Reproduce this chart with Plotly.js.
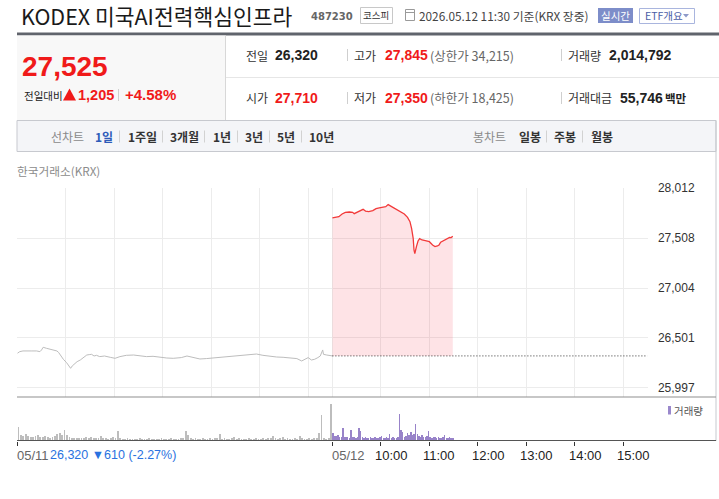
<!DOCTYPE html>
<html><head><meta charset="utf-8">
<script src="https://cdn.plot.ly/plotly-3.0.1.min.js"></script>
<style>html,body{margin:0;padding:0;background:#fff;}#chart{width:719px;height:499px;}</style>
</head><body><div id="chart"></div>
<script>
// ---------------- data ----------------
const stockName = "KODEX 미국AI전력핵심인프라";
const stockCode = "487230";
const market = "코스피";
const asOf = "2026.05.12 11:30 기준(KRX 장중)";
const currentPrice = "27,525";
const changeLabel = "전일대비";
const changeAbs = "1,205";
const changePct = "+4.58%";
const infoLabels = ["전일", "고가", "거래량", "시가", "저가", "거래대금"];
const infoValues = ["26,320", "27,845", "2,014,792", "27,710", "27,350", "55,746"];
const infoLimits = ["(상한가 34,215)", "(하한가 18,425)"];
const periodTabs = ["1일", "1주일", "3개월", "1년", "3년", "5년", "10년"];
const candleTabs = ["일봉", "주봉", "월봉"];

const prevClose = 26320;
const prevDayNote = "26,320 ▼610 (-2.27%)";

// 05/11 (previous day) price line
const day1Times = ["09:00","09:03","09:07","09:12","09:18","09:24","09:28","09:30","09:32","09:36","09:40","09:45","09:49","09:51","09:54","09:57","10:01","10:04","10:06","10:08","10:11","10:14","10:18","10:22","10:26","10:29","10:32","10:35","10:38","10:42","10:48","10:55","11:01","11:07","11:15","11:24","11:32","11:40","11:48","11:57","12:05","12:13","12:23","12:30","12:38","12:46","12:54","13:03","13:11","13:19","13:27","13:36","13:46","13:56","14:04","14:13","14:21","14:29","14:37","14:46","14:52","14:56","15:00","15:04","15:08","15:12","15:15","15:18","15:19","15:23","15:30"];
const day1Prices = [26346,26363,26370,26373,26370,26370,26363,26380,26407,26397,26387,26380,26370,26356,26319,26286,26252,26219,26195,26219,26246,26262,26279,26303,26329,26333,26336,26319,26326,26313,26319,26306,26296,26313,26326,26329,26319,26313,26316,26306,26299,26296,26303,26319,26303,26289,26293,26299,26309,26316,26319,26323,26333,26339,26326,26316,26309,26306,26303,26293,26269,26286,26303,26279,26286,26303,26319,26380,26336,26329,26320];

// 05/12 (today) price line
const day2Times = ["09:00","09:04","09:08","09:12","09:16","09:21","09:25","09:27","09:31","09:35","09:38","09:41","09:45","09:50","09:54","09:58","10:02","10:06","10:09","10:12","10:16","10:20","10:25","10:29","10:33","10:36","10:38","10:40","10:41","10:42","10:44","10:46","10:48","10:51","10:55","11:00","11:04","11:07","11:10","11:12","11:14","11:18","11:22","11:25","11:27","11:29"];
const day2Prices = [27710,27713,27723,27750,27767,27770,27767,27753,27770,27784,27797,27780,27774,27784,27804,27811,27817,27824,27845,27831,27814,27800,27774,27750,27716,27673,27606,27505,27387,27350,27421,27478,27501,27488,27481,27471,27438,27421,27428,27438,27465,27481,27495,27515,27512,27525];

// volume (thousand shares), 3-minute bins on 05/11, 2-minute bins on 05/12
const vol1Start = "09:00", vol1Step = 3;
const vol1 = [52,20,18,24,16,14,12,16,20,14,
 12,16,14,10,12,18,24,28,20,40,
 22,14,10,8,8,10,8,8,12,10,
 14,10,8,10,18,8,8,6,8,12,
 8,36,8,6,6,8,4,6,6,4,
 8,6,4,6,8,6,4,6,6,8,
 4,6,6,8,4,6,6,8,10,36,
 20,8,6,8,4,6,10,6,4,8,
 6,8,10,26,6,8,6,4,8,14,
 6,8,4,6,6,8,4,6,8,6,
 4,8,6,8,10,18,8,6,8,14,
 6,8,6,4,8,6,16,8,6,4,
 8,6,8,10,28,100,8,6,10,144];
const vol2Start = "09:00", vol2Step = 2;
const vol2 = [28,18,16,20,14,14,48,14,12,14,
 10,40,14,12,10,12,48,36,14,10,
 12,8,10,14,8,10,12,8,10,12,
 16,10,8,12,10,24,10,12,8,10,
 14,104,40,32,14,16,28,20,32,20,
 24,67,24,16,12,20,14,12,18,36,
 12,10,14,12,10,12,8,10,12,20,
 8,10,12,8,10];

const yTickVals = [25997, 26501, 27004, 27508, 28012];
const yTickText = ["25,997", "26,501", "27,004", "27,508", "28,012"];
const xTickDay  = [1, 2, 2, 2, 2, 2, 2, 2];
const xTickTime = ["09:00","09:00","10:00","11:00","12:00","13:00","14:00","15:00"];
const xTickText = ["05/11","05/12","10:00","11:00","12:00","13:00","14:00","15:00"];
const gridDay  = [1,1,1,1,1,1,1,2,2,2,2,2,2,2];
const gridTime = ["09:00","10:00","11:00","12:00","13:00","14:00","15:00","09:00","10:00","11:00","12:00","13:00","14:00","15:00"];

// ---------------- helpers ----------------
const SESSION = 390; // minutes per trading day (09:00-15:30)
function toX(day, hhmm) { const [h, m] = hhmm.split(":").map(Number); return (day - 1) * SESSION + (h - 9) * 60 + m; }

const W = 719, H = 499;
const px = x => x / W, py = y => 1 - y / H;
const KR = '"Noto Sans CJK KR", sans-serif';
const NUM = '"Liberation Sans", Arial, sans-serif';
const RED = "#f01a1a";
const ann = [], shp = [];
function T(x, y, text, size, color, family, anchor) {
  ann.push({xref:"paper", yref:"paper", x:px(x), y:py(y), xanchor:anchor||"left", yanchor:"middle",
    text:text, showarrow:false, borderpad:0, font:{family:family||KR, size:size, color:color}});
}
function R(x0, y0, x1, y1, fill, line) {
  shp.push({type:"rect", xref:"paper", yref:"paper", x0:px(x0), x1:px(x1), y0:py(y1), y1:py(y0),
    fillcolor:fill||"rgba(0,0,0,0)", line:{color:line||"rgba(0,0,0,0)", width:line?1:0}});
}
function L(x0, y0, x1, y1, color, width) {
  shp.push({type:"line", xref:"paper", yref:"paper", x0:px(x0), x1:px(x1), y0:py(y0), y1:py(y1), line:{color:color, width:width||1}});
}
function P(path, fill) { shp.push({type:"path", xref:"paper", yref:"paper", path:path, fillcolor:fill, line:{width:0}}); }
function pathOf(pts) { return "M " + pts.map(p => px(p[0]) + "," + py(p[1])).join(" L ") + " Z"; }

// ---------------- header ----------------
T(20, 15.8, stockName, 21.5, "#1a1a1a");
T(310, 16, "<b>" + stockCode + "</b>", 10, "#666", '"DejaVu Sans", sans-serif');
R(360.5, 7.5, 392.5, 23.5, "#fff", "#c8c8c8");
T(376.5, 15.5, market, 9.5, "#333", KR, "center");
R(405.5, 9.5, 414.5, 20.5, "#fff", "#9a9a9a");
L(405.5, 12.5, 414.5, 12.5, "#9a9a9a", 1);
T(418, 15, asOf, 11.8, "#444");
R(598, 8, 633, 23, "#7d8dc9", null);
T(615.5, 15.5, "실시간", 10.5, "#fff", KR, "center");
R(639.5, 8.5, 694.5, 23.5, "#fff", "#a9b5de");
T(644, 15.5, "ETF개요", 10.5, "#4b5ea6");
P(pathOf([[683,14],[689,14],[686,17.5]]), "#8d9ac9");

R(17, 32.5, 719, 35.5, "#60646c", null);
R(17, 35.5, 225.5, 120.5, "#f8f8f8", null);
L(225.5, 35.5, 225.5, 120.5, "#d8d8d8");
L(226, 77.5, 719, 77.5, "#e6e6e6");

T(21, 66.5, "<b>" + currentPrice + "</b>", 28, RED, NUM);
T(23, 95.5, changeLabel, 10.5, "#222");
P(pathOf([[63,100.5],[76,100.5],[69.5,88.5]]), RED);
T(76.5, 95, "<b>" + changeAbs + "</b>", 14.5, RED, NUM);
L(118.5, 89, 118.5, 101, "#cfcfcf");
T(123.5, 95, "<b>" + changePct + "</b>", 15, RED, NUM);

const rowY = [55, 98];
const labelX = [245, 353, 567];
const valueX = [274, 384, 608];
for (let r = 0; r < 2; r++) {
  const y = rowY[r];
  for (let c = 0; c < 3; c++) {
    const i = r * 3 + c;
    T(labelX[c], y, infoLabels[i], 12, "#333");
    const isRed = (c === 1) || (r === 1 && c === 0);
    const vx = (r === 1 && c === 2) ? 619 : valueX[c];
    T(vx, y, "<b>" + infoValues[i] + "</b>", 14, isRed ? RED : "#222", NUM);
  }
  T(429, y, infoLimits[r], 12.5, "#666");
  L(347.5, y - 6, 347.5, y + 6, "#cfcfcf");
  L(561.5, y - 6, 561.5, y + 6, "#cfcfcf");
}
T(664, rowY[1], "<b>백만</b>", 11.5, "#222");

// toolbar
R(17, 120.5, 716, 151.5, "#f4f5f8", "#c7c9cf");
const tbY = 136.5;
T(50, tbY, "선차트", 12, "#8a8a8a");
const tabX = [94, 127, 169, 212, 244, 276, 308];
periodTabs.forEach((t, i) => T(tabX[i], tbY, "<b>" + t + "</b>", 12, i === 0 ? "#2d5bb9" : "#333"));
[119.5, 162.5, 204.5, 237.5, 269.5, 301.5].forEach(x => L(x, tbY - 6, x, tbY + 6, "#d2d2d2"));
T(472, tbY, "봉차트", 12, "#8a8a8a");
const cTabX = [518, 553, 590];
candleTabs.forEach((t, i) => T(cTabX[i], tbY, "<b>" + t + "</b>", 12, "#333"));
[546.5, 582.5].forEach(x => L(x, tbY - 6, x, tbY + 6, "#d2d2d2"));

T(16, 170, "한국거래소(KRX)", 11.7, "#8c8c8c");

// chart frame
L(716, 120.5, 716, 441, "#c7c9cf");
L(17, 397, 716, 397, "#8f8f8f");
L(17, 440.5, 716, 440.5, "#555");
R(668, 406, 671, 414.5, "#9a88cc", null);
T(673, 410.5, "거래량", 10.5, "#555");

// x tick labels (annotations in data coordinates)
xTickText.forEach((t, i) => {
  const isDate = t.indexOf("/") >= 0;
  ann.push({xref:"x2", yref:"paper", x:toX(xTickDay[i], xTickTime[i]), y:py(455), xanchor:"left", yanchor:"middle",
    xshift: isDate ? -1 : -7, text:t, showarrow:false, borderpad:0,
    font:{family:NUM, size:13, color:isDate ? "#666" : "#222"}});
});
ann.push({xref:"paper", yref:"paper", x:px(49), y:py(455), xanchor:"left", yanchor:"middle", text:prevDayNote,
  showarrow:false, borderpad:0, font:{family:NUM, size:12.5, color:"#2a72e0"}});

// ---------------- traces ----------------
const x1 = day1Times.map(t => toX(1, t));
const x2 = day2Times.map(t => toX(2, t));
const vx1 = vol1.map((v, i) => toX(1, vol1Start) + i * vol1Step + vol1Step / 2);
const vx2 = vol2.map((v, i) => toX(2, vol2Start) + i * vol2Step + vol2Step / 2);

const traces = [
  {x:x1, y:day1Prices, type:"scatter", mode:"lines", line:{color:"#bdbdbd", width:1}, xaxis:"x", yaxis:"y", hoverinfo:"skip"},
  {x:x2, y:x2.map(() => prevClose), type:"scatter", mode:"lines", line:{color:"rgba(0,0,0,0)", width:0}, xaxis:"x", yaxis:"y", hoverinfo:"skip"},
  {x:x2, y:day2Prices, type:"scatter", mode:"lines", fill:"tonexty", fillcolor:"rgba(248,70,85,0.15)",
    line:{color:"#f23a3a", width:1.3}, xaxis:"x", yaxis:"y", hoverinfo:"skip"},
  {x:[toX(2, "09:00"), toX(2, "15:30")], y:[prevClose, prevClose], type:"scatter", mode:"lines",
    line:{color:"#333", width:1, dash:"1px,2px"}, xaxis:"x", yaxis:"y", hoverinfo:"skip"},
  {x:vx1, y:vol1, type:"bar", width:vol1Step * 0.75, marker:{color:"#bdbdbd", line:{width:0}}, xaxis:"x2", yaxis:"y2", hoverinfo:"skip"},
  {x:vx2, y:vol2, type:"bar", width:vol2Step * 0.9, marker:{color:"#9883c9", line:{width:0}}, xaxis:"x2", yaxis:"y2", hoverinfo:"skip"}
];

const xDom = [px(17.3), px(647.5)];
const xRange = [0, 2 * SESSION];
const layout = {
  width: W, height: H, autosize: false,
  margin: {l:0, r:0, t:0, b:0, pad:0},
  paper_bgcolor: "#fff", plot_bgcolor: "rgba(0,0,0,0)",
  showlegend: false, bargap: 0,
  xaxis: {domain:xDom, range:xRange, anchor:"y", tickmode:"array", tickvals:gridDay.map((d, i) => toX(d, gridTime[i])),
    showticklabels:false, ticks:"", showgrid:true, gridcolor:"#ececec", gridwidth:1, zeroline:false, showline:false, fixedrange:true},
  yaxis: {domain:[py(397), py(188)], range:[25906, 28012], side:"right", anchor:"x", tickmode:"array",
    tickvals:yTickVals, ticktext:yTickText, ticks:"outside", ticklen:7, tickcolor:"rgba(0,0,0,0)",
    tickfont:{family:NUM, size:12, color:"#333"}, showgrid:true, gridcolor:"#ececec", zeroline:false, showline:false, fixedrange:true},
  xaxis2: {domain:xDom, range:xRange, anchor:"y2", tickmode:"array", tickvals:xTickDay.map((d, i) => toX(d, xTickTime[i])),
    showticklabels:false, ticks:"outside", ticklen:4, tickwidth:1, tickcolor:"#333", showgrid:false, zeroline:false, showline:false, fixedrange:true},
  yaxis2: {domain:[py(440.5), py(397)], range:[0, 172], anchor:"x2", showticklabels:false, ticks:"", showgrid:false, zeroline:false, showline:false, fixedrange:true},
  annotations: ann,
  shapes: shp
};

Plotly.newPlot("chart", traces, layout, {staticPlot:true, displayModeBar:false});
</script>
</body></html>
